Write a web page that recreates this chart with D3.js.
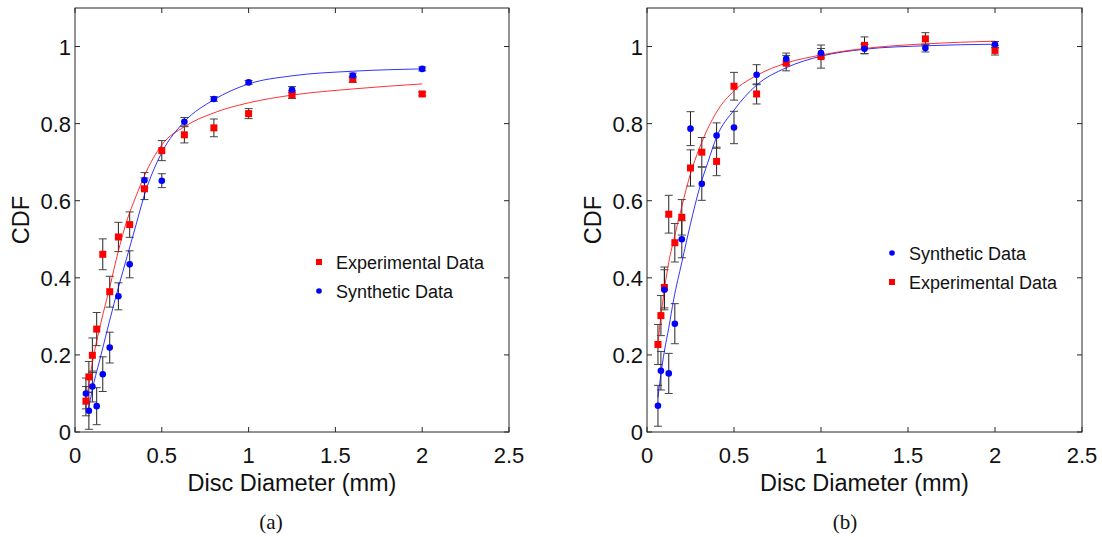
<!DOCTYPE html>
<html>
<head>
<meta charset="utf-8">
<script src="https://cdn.jsdelivr.net/npm/d3@7"></script>
<style>
  html, body { margin: 0; padding: 0; background: #fff; }
  svg { display: block; }
</style>
</head>
<body>
<svg id="chart" width="1102" height="537"></svg>
<script>
// ---------- data ----------
const diameters = [0.063, 0.08, 0.1, 0.125, 0.16, 0.2, 0.25, 0.315, 0.4, 0.5, 0.63, 0.8, 1.0, 1.25, 1.6, 2.0];

// panel (a)
const aExp    = [0.080, 0.143, 0.199, 0.267, 0.461, 0.364, 0.506, 0.538, 0.631, 0.730, 0.771, 0.789, 0.826, 0.875, 0.915, 0.877];
const aExpErr = [0.038, 0.040, 0.045, 0.043, 0.040, 0.040, 0.038, 0.033, 0.028, 0.026, 0.021, 0.023, 0.013, 0.010, 0.008, 0.005];
const aSyn    = [0.100, 0.055, 0.118, 0.067, 0.150, 0.219, 0.352, 0.435, 0.653, 0.652, 0.805, 0.864, 0.907, 0.888, 0.925, 0.942];
const aSynErr = [0.040, 0.048, 0.040, 0.048, 0.045, 0.040, 0.035, 0.035, 0.020, 0.018, 0.011, 0.006, 0.005, 0.008, 0.006, 0.005];
const aExpFitX = [0.063, 0.1, 0.15, 0.2, 0.25, 0.3, 0.35, 0.4, 0.5, 0.63, 0.8, 1.0, 1.25, 1.6, 2.0];
const aExpFitY = [0.075, 0.18, 0.285, 0.375, 0.47, 0.55, 0.61, 0.665, 0.745, 0.792, 0.828, 0.854, 0.874, 0.890, 0.903];
const aSynFitX = [0.077, 0.1, 0.15, 0.2, 0.25, 0.3, 0.35, 0.4, 0.5, 0.63, 0.8, 1.0, 1.25, 1.6, 2.0];
const aSynFitY = [0.057, 0.11, 0.20, 0.29, 0.375, 0.455, 0.535, 0.615, 0.725, 0.805, 0.862, 0.903, 0.924, 0.936, 0.942];

// panel (b)
const bExp    = [0.227, 0.302, 0.375, 0.565, 0.491, 0.557, 0.685, 0.726, 0.702, 0.897, 0.877, 0.957, 0.974, 1.003, 1.020, 0.990];
const bExpErr = [0.052, 0.052, 0.053, 0.049, 0.050, 0.046, 0.047, 0.038, 0.037, 0.036, 0.026, 0.020, 0.030, 0.022, 0.016, 0.012];
const bSyn    = [0.068, 0.159, 0.369, 0.152, 0.281, 0.500, 0.787, 0.644, 0.769, 0.790, 0.927, 0.968, 0.983, 0.994, 0.996, 1.005];
const bSynErr = [0.053, 0.050, 0.052, 0.052, 0.052, 0.048, 0.044, 0.043, 0.033, 0.042, 0.026, 0.015, 0.012, 0.012, 0.010, 0.008];
const bExpFitX = [0.063, 0.08, 0.1, 0.125, 0.16, 0.2, 0.25, 0.3, 0.4, 0.5, 0.63, 0.8, 1.0, 1.25, 1.6, 2.0];
const bExpFitY = [0.23, 0.30, 0.37, 0.44, 0.51, 0.585, 0.67, 0.735, 0.83, 0.885, 0.925, 0.957, 0.978, 0.995, 1.007, 1.014];
const bSynFitX = [0.063, 0.08, 0.1, 0.125, 0.153, 0.2, 0.25, 0.3, 0.35, 0.4, 0.5, 0.63, 0.8, 1.0, 1.25, 1.6, 2.0];
const bSynFitY = [0.09, 0.15, 0.21, 0.27, 0.343, 0.44, 0.54, 0.63, 0.70, 0.765, 0.835, 0.90, 0.945, 0.975, 0.993, 1.002, 1.006];

const xTicks = [0, 0.5, 1, 1.5, 2, 2.5];
const xTickLabels = ["0", "0.5", "1", "1.5", "2", "2.5"];
const yTicks = [0, 0.2, 0.4, 0.6, 0.8, 1];
const yTickLabels = ["0", "0.2", "0.4", "0.6", "0.8", "1"];

const expLabel = "Experimental Data";
const synLabel = "Synthetic Data";
const xTitle = "Disc Diameter (mm)";
const yTitle = "CDF";

// ---------- drawing ----------
const svg = d3.select("#chart");
const FONT = "'Liberation Sans', Arial, Helvetica, sans-serif";
const RED = "#ff0000", BLUE = "#0000ff";

function panel(opt) {
  const x = d3.scaleLinear().domain([0, 2.5]).range([opt.left, opt.right]);
  const y = d3.scaleLinear().domain([0, 1.1]).range([opt.bottom, opt.top]);
  const g = svg.append("g");

  const line = d3.line().x(d => x(d[0])).y(d => y(d[1])).curve(d3.curveMonotoneX);
  const curves = [
    { xs: opt.expFitX, ys: opt.expFitY, c: RED },
    { xs: opt.synFitX, ys: opt.synFitY, c: BLUE }
  ];
  if (opt.synFirst) curves.reverse();

  function errbars(vals, errs) {
    const eg = g.append("g").attr("stroke", "#222").attr("stroke-width", 1).attr("fill", "none");
    diameters.forEach((d, i) => {
      const cx = x(d), y1 = y(vals[i] + errs[i]), y2 = y(vals[i] - errs[i]);
      eg.append("line").attr("x1", cx).attr("x2", cx).attr("y1", y1).attr("y2", y2);
      eg.append("line").attr("x1", cx - 4).attr("x2", cx + 4).attr("y1", y1).attr("y2", y1).attr("stroke", "#444");
      eg.append("line").attr("x1", cx - 4).attr("x2", cx + 4).attr("y1", y2).attr("y2", y2).attr("stroke", "#444");
    });
  }
  errbars(opt.exp, opt.expErr);
  errbars(opt.syn, opt.synErr);

  curves.forEach(c => {
    g.append("path")
      .datum(c.xs.map((v, i) => [v, c.ys[i]]))
      .attr("d", line)
      .attr("fill", "none")
      .attr("stroke", c.c)
      .attr("stroke-opacity", 0.8)
      .attr("stroke-width", 1);
  });

  g.append("g").selectAll("rect").data(diameters).join("rect")
    .attr("x", (d) => x(d) - 3.5)
    .attr("y", (d, i) => y(opt.exp[i]) - 3.5)
    .attr("width", 7).attr("height", 7)
    .attr("fill", RED);
  g.append("g").selectAll("circle").data(diameters).join("circle")
    .attr("cx", d => x(d))
    .attr("cy", (d, i) => y(opt.syn[i]))
    .attr("r", 3.3)
    .attr("fill", BLUE);

  g.append("rect")
    .attr("x", opt.left).attr("y", opt.top)
    .attr("width", opt.right - opt.left).attr("height", opt.bottom - opt.top)
    .attr("fill", "none").attr("stroke", "#262626").attr("stroke-width", 1);

  const tg = g.append("g").attr("stroke", "#262626").attr("stroke-width", 1);
  xTicks.forEach(t => {
    tg.append("line").attr("x1", x(t)).attr("x2", x(t)).attr("y1", opt.bottom).attr("y2", opt.bottom - 5);
    tg.append("line").attr("x1", x(t)).attr("x2", x(t)).attr("y1", opt.top).attr("y2", opt.top + 5);
  });
  yTicks.forEach(t => {
    tg.append("line").attr("x1", opt.left).attr("x2", opt.left + 5).attr("y1", y(t)).attr("y2", y(t));
    tg.append("line").attr("x1", opt.right).attr("x2", opt.right - 5).attr("y1", y(t)).attr("y2", y(t));
  });

  xTicks.forEach((t, i) => {
    g.append("text").attr("x", x(t)).attr("y", opt.bottom + 31)
      .attr("text-anchor", "middle").attr("font-family", FONT).attr("font-size", 22)
      .attr("fill", "#111").text(xTickLabels[i]);
  });
  yTicks.forEach((t, i) => {
    g.append("text").attr("x", opt.left - 4).attr("y", y(t) + 8)
      .attr("text-anchor", "end").attr("font-family", FONT).attr("font-size", 22)
      .attr("fill", "#111").text(yTickLabels[i]);
  });

  g.append("text").attr("x", (opt.left + opt.right) / 2).attr("y", opt.bottom + 59)
    .attr("text-anchor", "middle").attr("font-family", FONT).attr("font-size", 23.5)
    .attr("fill", "#111").text(xTitle);
  g.append("text")
    .attr("transform", `translate(${opt.left - 46},${(opt.top + opt.bottom) / 2}) rotate(-90)`)
    .attr("text-anchor", "middle").attr("font-family", FONT).attr("font-size", 23.5)
    .attr("fill", "#111").text(yTitle);

  opt.legend.forEach((it, i) => {
    const ly = opt.legendY + i * 29;
    if (it.kind === "exp") {
      g.append("rect").attr("x", opt.legendX - 3).attr("y", ly - 3).attr("width", 6).attr("height", 6).attr("fill", RED);
    } else {
      g.append("circle").attr("cx", opt.legendX).attr("cy", ly).attr("r", 2.8).attr("fill", BLUE);
    }
    g.append("text").attr("x", opt.legendX + 17).attr("y", ly + 7)
      .attr("font-family", FONT).attr("font-size", 18).attr("fill", "#111").text(it.label);
  });

  g.append("text").attr("x", opt.subX).attr("y", 529)
    .attr("text-anchor", "middle").attr("font-family", "'Liberation Serif', 'DejaVu Serif', serif")
    .attr("font-size", 21).attr("fill", "#111").text(opt.sub);
}

panel({
  left: 75, right: 509, top: 8, bottom: 432,
  exp: aExp, expErr: aExpErr, syn: aSyn, synErr: aSynErr,
  expFitX: aExpFitX, expFitY: aExpFitY, synFitX: aSynFitX, synFitY: aSynFitY,
  legend: [{ kind: "exp", label: expLabel }, { kind: "syn", label: synLabel }],
  legendX: 319, legendY: 262, sub: "(a)", subX: 271
});
panel({
  left: 647, right: 1082, top: 8, bottom: 432,
  exp: bExp, expErr: bExpErr, syn: bSyn, synErr: bSynErr,
  expFitX: bExpFitX, expFitY: bExpFitY, synFitX: bSynFitX, synFitY: bSynFitY,
  synFirst: true,
  legend: [{ kind: "syn", label: synLabel }, { kind: "exp", label: expLabel }],
  legendX: 892, legendY: 253, sub: "(b)", subX: 845
});
</script>
</body>
</html>
